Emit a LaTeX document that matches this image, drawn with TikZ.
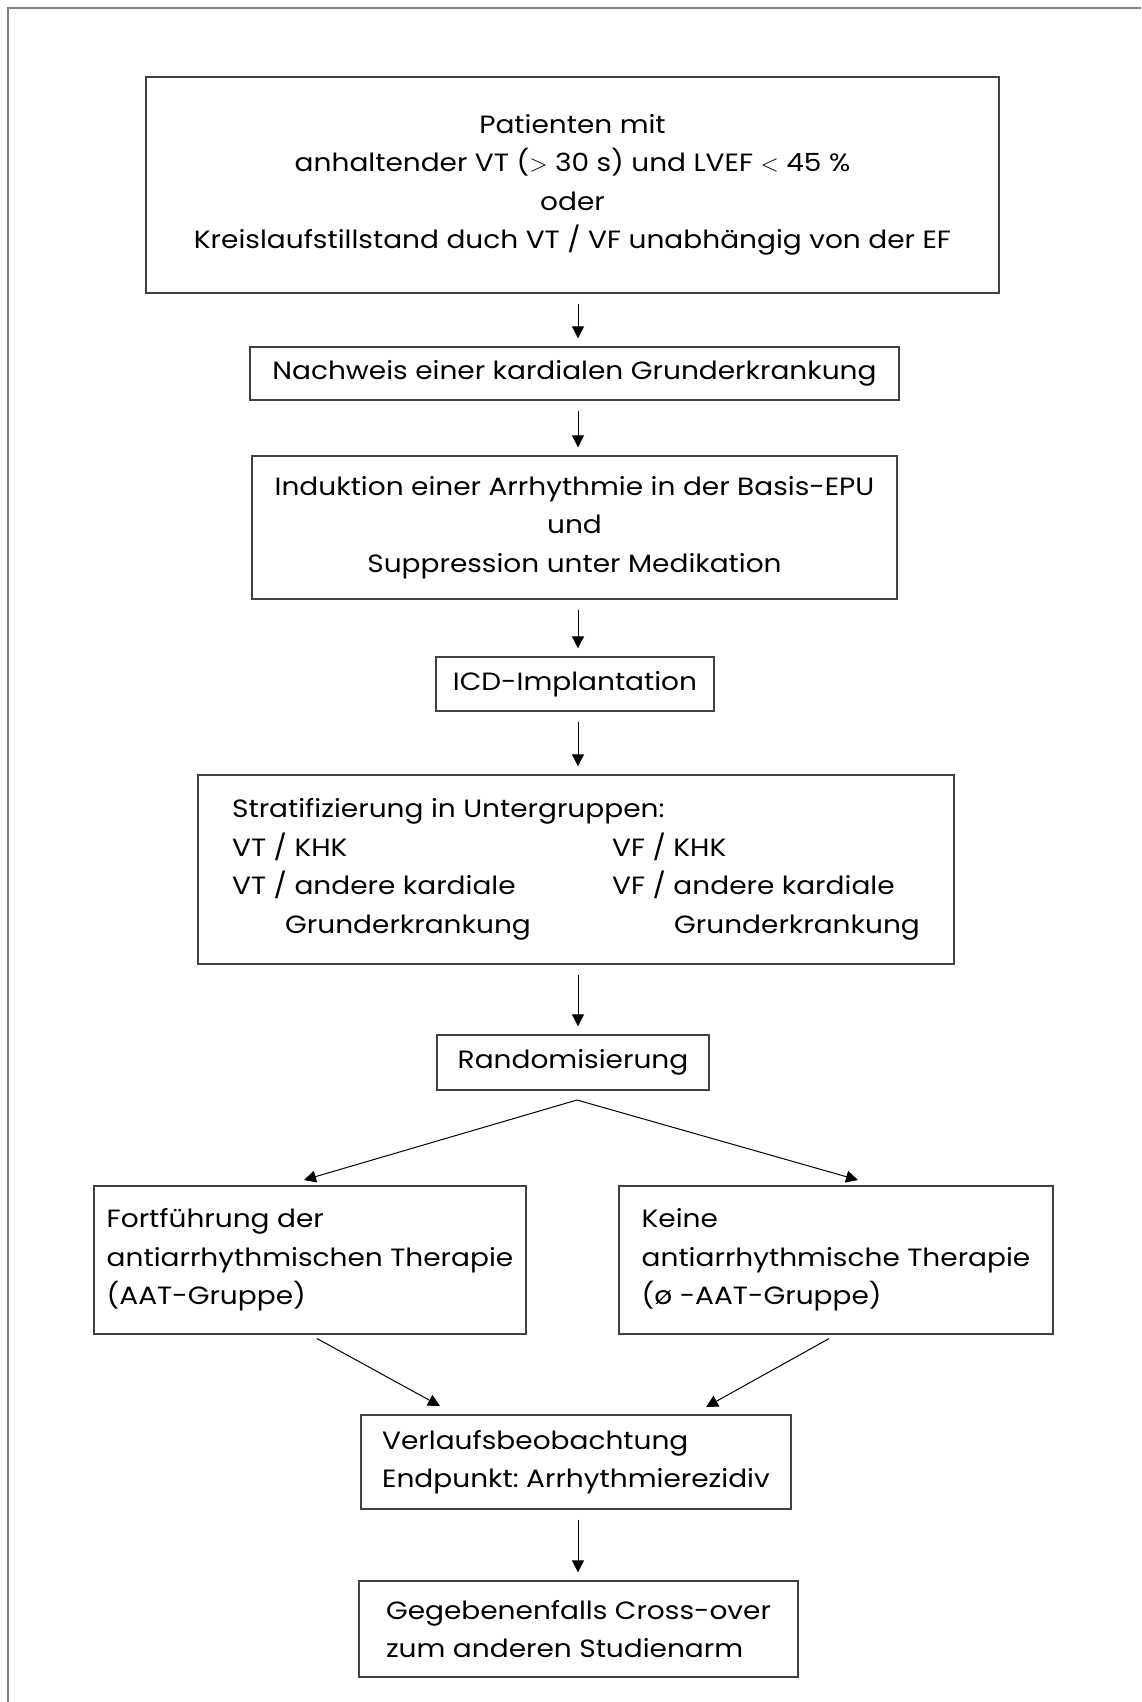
\documentclass[tikz,border=0pt]{standalone}
\usepackage{fontspec}
\setmainfont{Poppins}[FakeStretch=1.12]
\usetikzlibrary{arrows.meta}
\frenchspacing
\newcommand{\boxfont}{\fontsize{12.5}{19.25}\selectfont}

\begin{document}
\begin{tikzpicture}[
  x=0.5pt, y=-0.5pt,
  box/.style={draw=black!75, line width=0.7pt, inner sep=0pt, font=\boxfont},
  arr/.style={-{Triangle[length=6pt, width=6pt]}, line width=0.5pt},
  varr/.style={arr, shorten <=5pt, shorten >=4pt},
  frm/.style={draw=gray, line width=1pt},
]
%\draw[gray, help lines] (0,0) grid (1141,1702);
\useasboundingbox (0,0) rectangle (1141,1702);
\draw [frm] (8,1702) -- (8,8) -- (1141,8);
\coordinate (ax) at (578,0);

\node [box, minimum width=426.5pt, minimum height=108pt, align=center] (pat) at (572.5,185)
  {Patienten mit\\ anhaltender VT ($>$ 30 s) und LVEF $<$ 45 \%\\ oder\\
   Kreislaufstillstand duch VT / VF unabhängig von der EF};
\node [box, minimum width=324.5pt, minimum height=26.5pt] (nach) at (574.5,373.5)
  {Nachweis einer kardialen Grunderkrankung};
\node [box, minimum width=322.5pt, minimum height=71.5pt, align=center] (ind) at (574.5,527.5)
  {Induktion einer Arrhythmie in der Basis-EPU\\ und\\ Suppression unter Medikation};
\node [box, minimum width=139pt, minimum height=27pt] (icd) at (575,684)
  {ICD-Implantation};
\node [box, minimum width=378pt, minimum height=94.5pt, align=left] (strat) at (576,869.5)
  {Stratifizierung in Untergruppen:\\
   \makebox[190pt][l]{VT / KHK}VF / KHK\\
   \makebox[190pt][l]{VT / andere kardiale}VF / andere kardiale\\
   \makebox[190pt][l]{\hspace*{26.5pt}Grunderkrankung}\hspace*{31pt}Grunderkrankung};
\node [box, minimum width=136pt, minimum height=27.5pt] (rand) at (573,1062.5)
  {Randomisierung};
\node [box, minimum width=216pt, minimum height=74pt, align=left] (aat) at (310,1260)
  {Fortführung der\\ antiarrhythmischen Therapie\\ (AAT-Gruppe)};
\node [box, minimum width=217pt, minimum height=74pt, align=left] (noaat) at (836,1260)
  {Keine\\ antiarrhythmische Therapie\\ (ø -AAT-Gruppe)};
\node [box, minimum width=215pt, minimum height=47pt, align=left] (verl) at (576,1462)
  {Verlaufsbeobachtung\\ Endpunkt: Arrhythmierezidiv};
\node [box, minimum width=219.5pt, minimum height=48pt, align=left] (cross) at (578.5,1629)
  {Gegebenenfalls Cross-over\\ zum anderen Studienarm};

% vertical arrows
\draw [varr] (pat.south -| ax) -- (nach.north -| ax);
\draw [varr] (nach.south -| ax) -- (ind.north -| ax);
\draw [varr] (ind.south -| ax) -- (icd.north -| ax);
\draw [varr] (icd.south -| ax) -- (strat.north -| ax);
\draw [varr] (strat.south -| ax) -- (rand.north -| ax);
\draw [varr] (verl.south -| ax) -- (cross.north -| ax);

% split after randomisation
\coordinate (split) at (577,1100);
\coordinate (aatin) at (304,1180);
\coordinate (noaatin) at (858,1180);
\draw [arr] (split) -- (aatin);
\draw [arr] (split) -- (noaatin);

% join into follow-up
\coordinate (verlin1) at (440,1406);
\coordinate (verlin2) at (706,1407);
\draw [arr, shorten <=4pt] (aat.south) -- (verlin1);
\draw [arr, shorten <=4pt] (noaat.south) -- (verlin2);
\end{tikzpicture}
\end{document}
